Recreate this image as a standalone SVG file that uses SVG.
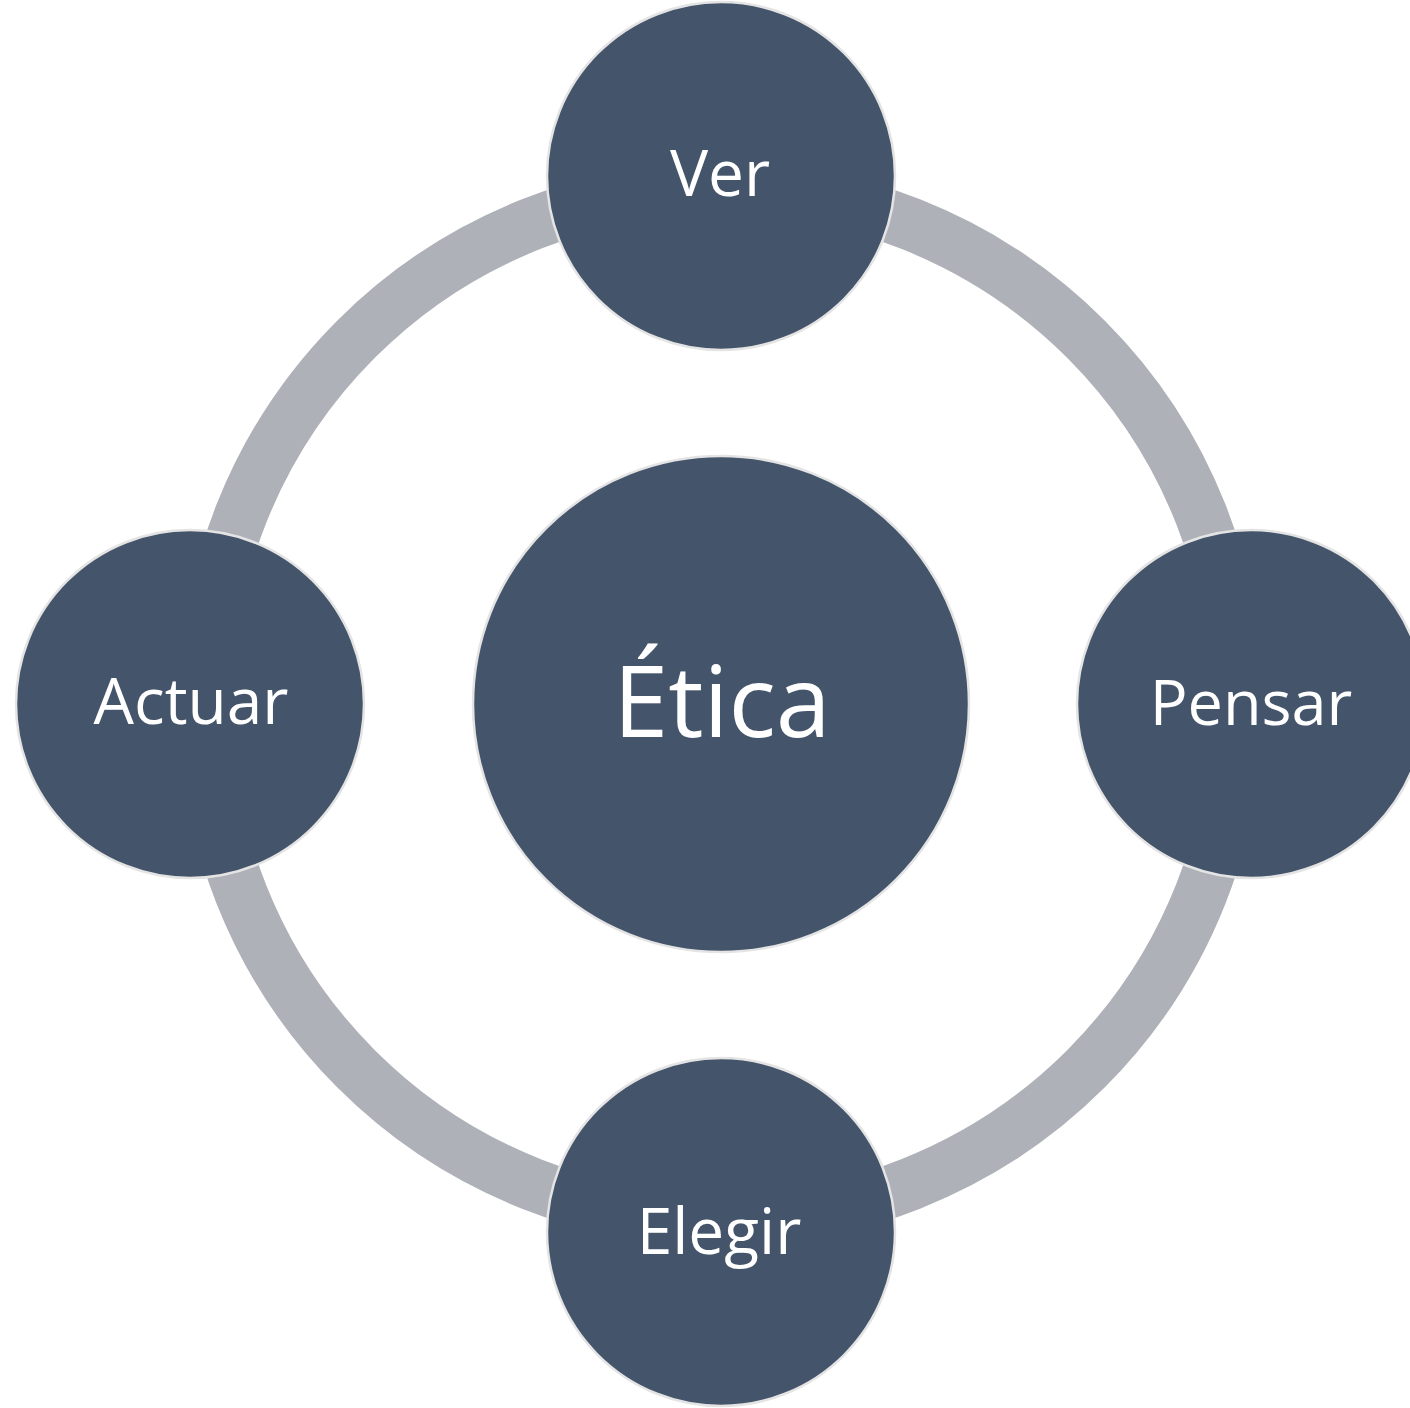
<svg xmlns="http://www.w3.org/2000/svg" width="1410" height="1408" viewBox="0 0 1410 1408">
  <style>
    .node { fill: #44546A; stroke: #E4E4E4; stroke-width: 2.5; }
    .label { fill: #FFFFFF; font-family: "Open Sans", "Liberation Sans", sans-serif; text-anchor: middle; }
    .ring { fill: none; stroke: #AEB1B8; stroke-width: 53; }
  </style>
  <rect width="1410" height="1408" fill="#FFFFFF"/>
  <g id="connectors">
    <circle class="ring" cx="721" cy="704" r="516"/>
  </g>
  <g id="node-etica">
    <circle class="node" cx="721" cy="704" r="248"/>
    <text class="label" x="722" y="737" font-size="99">Ética</text>
  </g>
  <g id="node-ver">
    <circle class="node" cx="721" cy="176" r="174"/>
    <text class="label" x="720" y="196" font-size="64">Ver</text>
  </g>
  <g id="node-pensar">
    <circle class="node" cx="1251" cy="704" r="174"/>
    <text class="label" x="1251" y="725" font-size="63">Pensar</text>
  </g>
  <g id="node-elegir">
    <circle class="node" cx="721" cy="1232" r="174"/>
    <text class="label" x="719" y="1254" font-size="64">Elegir</text>
  </g>
  <g id="node-actuar">
    <circle class="node" cx="190" cy="704" r="174"/>
    <text class="label" x="191" y="724" font-size="64">Actuar</text>
  </g>
</svg>
